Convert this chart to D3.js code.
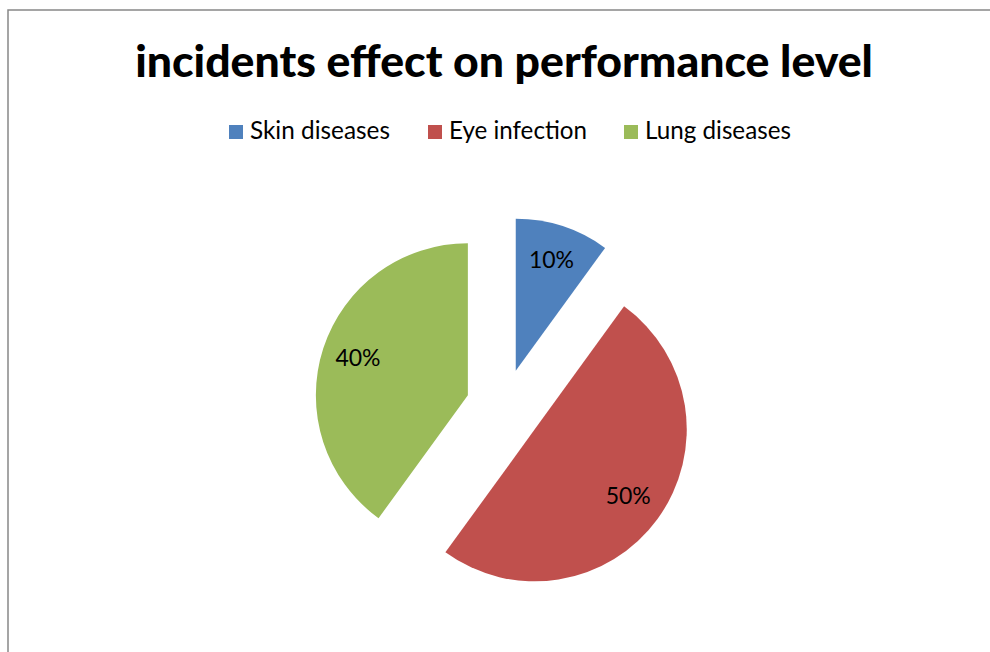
<!DOCTYPE html>
<html>
<head>
<meta charset="utf-8">
<script src="https://cdn.jsdelivr.net/npm/d3@7"></script>
<style>
  body { margin: 0; background: #fff; }
  svg { display: block; font-family: Lato, 'Open Sans', sans-serif; }
</style>
</head>
<body>
<svg id="chart" width="990" height="652"></svg>
<script>
const title = 'incidents effect on performance level'
const categories = ['Skin diseases', 'Eye infection', 'Lung diseases']
const values = [10, 50, 40]
const colors = ['#4F81BD', '#C0504D', '#9BBB59']

const svg = d3.select('#chart')
const cx = 504
const cy = 407
const radius = 152
const explode = 38

// chart frame, runs off the right and bottom edge
svg.append('path')
  .attr('d', 'M8,660 V10 H1000')
  .attr('fill', 'none')
  .attr('stroke', '#888')
  .attr('stroke-width', 1.5)

// shrink or grow a text to a given width
function fitWidth (sel, width) {
  const size = parseFloat(sel.attr('font-size'))
  const w = sel.node().getComputedTextLength()
  sel.attr('font-size', size * width / w)
}

const t = svg.append('text')
  .attr('x', 504)
  .attr('y', 77)
  .attr('text-anchor', 'middle')
  .attr('font-weight', 900)
  .attr('font-size', 40)
  .text(title)
fitWidth(t, 738)

// legend
const legendX = [229, 428, 624]
const legendW = [140, 138, 146]
const legend = svg.append('g')
  .selectAll('g')
  .data(categories)
  .enter()
  .append('g')
  .attr('transform', (d, i) => 'translate(' + legendX[i] + ',125)')
legend.append('rect')
  .attr('width', 14)
  .attr('height', 14)
  .attr('fill', (d, i) => colors[i])
legend.append('text')
  .attr('x', 21)
  .attr('y', 14)
  .attr('font-size', 22)
  .text(d => d)
  .each(function (d, i) { fitWidth(d3.select(this), legendW[i]) })

const total = d3.sum(values)
const pie = d3.pie().sort(null).value(d => d)
const arc = d3.arc().innerRadius(0).outerRadius(radius)
const labelArc = d3.arc().innerRadius(radius * 0.76).outerRadius(radius * 0.76)
const pct = d3.format('.0%')

const slices = svg.append('g')
  .attr('transform', 'translate(' + cx + ',' + cy + ')')
  .selectAll('g')
  .data(pie(values))
  .enter()
  .append('g')
  .attr('transform', d => {
    const a = (d.startAngle + d.endAngle) / 2
    return 'translate(' + (Math.sin(a) * explode) + ',' + (-Math.cos(a) * explode) + ')'
  })

slices.append('path')
  .attr('d', arc)
  .attr('fill', (d, i) => colors[i])

slices.append('text')
  .attr('transform', d => 'translate(' + labelArc.centroid(d) + ')')
  .attr('text-anchor', 'middle')
  .attr('dy', '0.3em')
  .attr('font-size', 23)
  .text(d => pct(d.value / total))
</script>
</body>
</html>
